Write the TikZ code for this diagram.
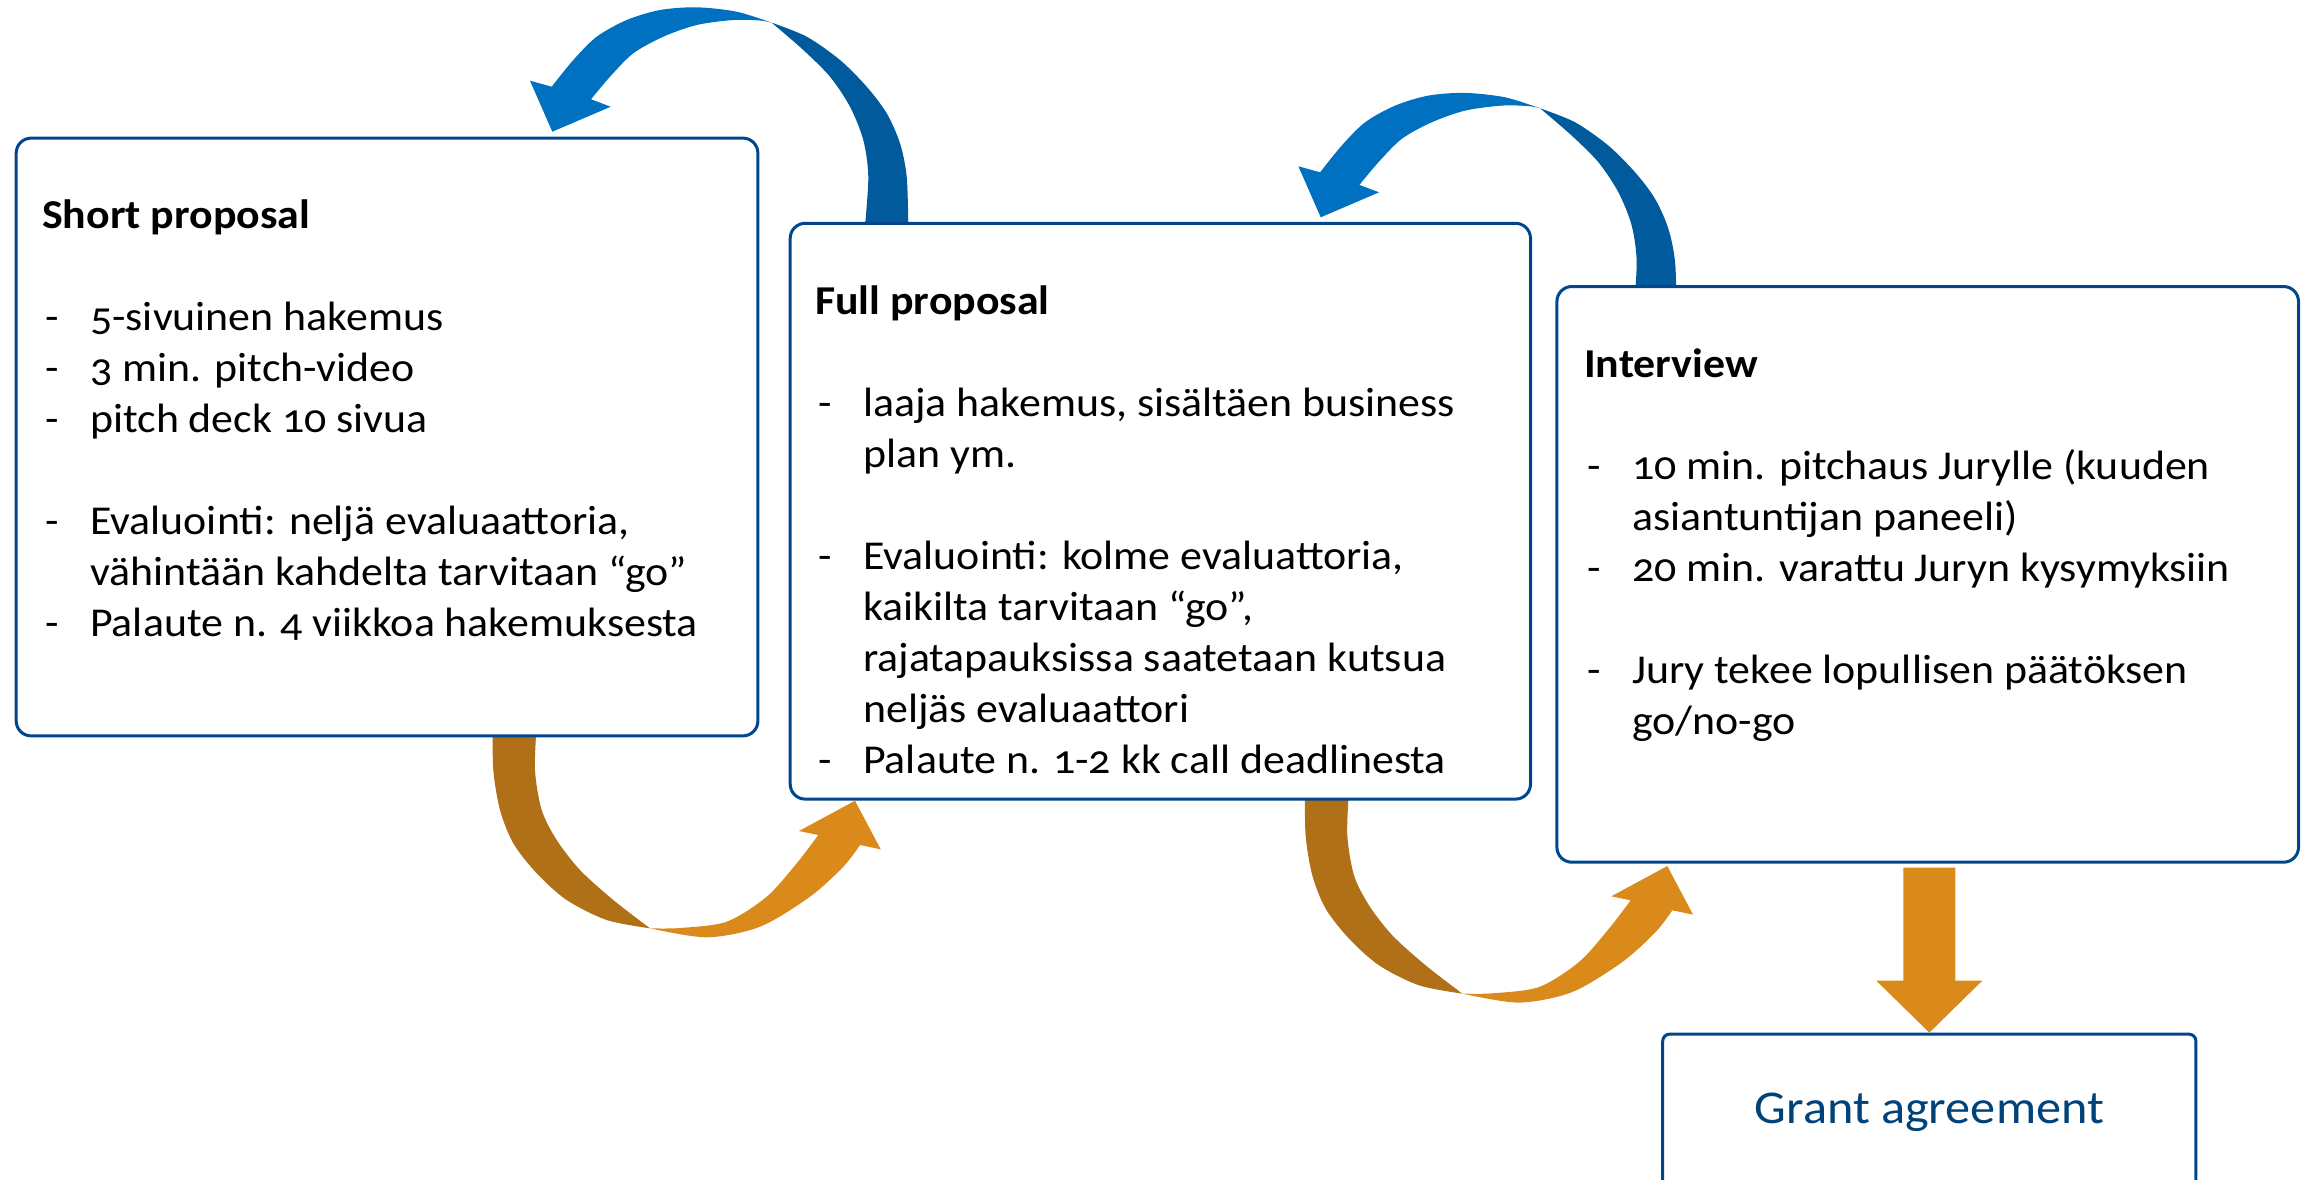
\documentclass[tikz,border=0pt]{standalone}
\usepackage{fontspec}
\setmainfont{Carlito}[Numbers=OldStyle, FakeStretch=1.07]
\usetikzlibrary{calc}
\definecolor{boxline}{RGB}{0,70,140}
\definecolor{bluelight}{RGB}{0,112,192}
\definecolor{bluedark}{RGB}{0,90,156}
\definecolor{orlight}{RGB}{218,138,26}
\definecolor{ordark}{RGB}{176,112,24}
\definecolor{gatext}{RGB}{0,66,122}
\newcommand{\itm}[1]{\par\noindent\hangindent=48pt\hangafter=1\makebox[48pt][l]{\hspace{3pt}-}#1}
\newcommand{\blankln}{\par\vspace{51pt}}
% curved blue return arrow (drawn in picture coordinates of the first one)
\newcommand{\bluearc}{%
  \fill[bluedark] plot[smooth] coordinates {(771.7,22.7) (806.7,36.7) (840,60) (866.7,86.7) (886.7,113.3) (900,143.3) (906.7,176.7) (908.3,226)}
    -- plot[smooth] coordinates {(865,226) (868.3,176.7) (863.3,140) (850,106.7) (830,76.7) (803.3,50) (771.7,22.7)} -- cycle;
  \fill[bluelight] plot[smooth] coordinates {(771.7,22.7) (736.7,11.7) (696.7,7.3) (660,10) (626.7,20) (596.7,36.7) (573.3,60) (551.7,86.7)}
    -- (530,80.7) -- (552.3,131.7) -- (610.7,106.7) -- (591,99.3)
    -- plot[smooth] coordinates {(591,99.3) (610,76.7) (633.3,53.3) (663.3,36.7) (696.7,25) (733.3,20) (760,20.5) (771.7,22.7)} -- cycle;}
% curved orange forward arrow
\newcommand{\orangearc}{%
  \fill[ordark] plot[smooth] coordinates {(492.7,725) (493.3,770) (500,810) (513.3,843.3) (536.7,873.3) (566.7,900) (606.7,920) (650,928.3)}
    -- plot[smooth] coordinates {(650,928.3) (613.3,900) (580,870) (556.7,840) (541.7,810) (535,770) (536.7,725)} -- cycle;
  \fill[orlight] plot[smooth] coordinates {(650,928.3) (706.7,937.3) (760,926.7) (810,896.7) (843.3,866.7) (860,845)}
    -- (880.7,849.3) -- (855,800.7) -- (799,831) -- (818.3,835)
    -- plot[smooth] coordinates {(818.3,835) (796.7,863.3) (766.7,896.7) (726.7,921.7) (680,928) (650,928.3)} -- cycle;}
\begin{document}
\begin{tikzpicture}[x=1pt,y=-1pt,
  stagebox/.style={draw=boxline, line width=3pt, rounded corners=15pt, fill=white, anchor=north west, inner sep=0pt},
  gabox/.style={draw=boxline, line width=3pt, rounded corners=7pt, fill=white, anchor=north west, inner sep=0pt},
  bodytext/.style={anchor=base west, inner sep=0pt, text=black}
]
\useasboundingbox (0,0) rectangle (2303,1179);
\clip (0,0) rectangle (2303,1179);

% ---------- curved arrows (behind boxes) ----------
\bluearc
\begin{scope}[shift={(768.4,85.6)}]\bluearc\end{scope}
\orangearc
\begin{scope}[shift={(812.3,65.3)}]\orangearc\end{scope}

% ---------- boxes ----------
\node[stagebox, minimum width=741.7pt, minimum height=597.8pt] (sp) at (14.7,136.6) {};
\node[stagebox, minimum width=740.3pt, minimum height=575.8pt] (fp) at (788.7,221.8) {};
\node[stagebox, minimum width=741.6pt, minimum height=575.7pt] (iv) at (1555.4,285) {};
\node[gabox, minimum width=533.2pt, minimum height=156pt] (ga) at (1661.2,1032.6) {};

% ---------- down arrow ----------
\coordinate (dtop) at (iv.south -| ga.north);
\fill[orlight] ($(dtop)+(-26,4)$) -- ($(dtop)+(26,4)$) -- ($(dtop)+(26,117)$) -- ($(dtop)+(53,117)$)
  -- (ga.north) -- ($(dtop)+(-53,117)$) -- ($(dtop)+(-26,117)$) -- cycle;

% ---------- texts ----------
\node[bodytext] (sptext) at (42,228.6) {\parbox[t]{700pt}{\fontsize{41}{51}\selectfont
\noindent\textbf{Short proposal}\blankln
\itm{5-sivuinen hakemus}
\itm{3 min. pitch-video}
\itm{pitch deck 10 sivua}\blankln
\itm{Evaluointi: neljä evaluaattoria,\\vähintään kahdelta tarvitaan “go”}
\itm{Palaute n. 4 viikkoa hakemuksesta}}};

\node[bodytext] (fptext) at (815,314) {\parbox[t]{700pt}{\fontsize{41}{51}\selectfont
\noindent\textbf{Full proposal}\blankln
\itm{laaja hakemus, sisältäen business\\plan ym.}\blankln
\itm{Evaluointi: kolme evaluattoria,\\kaikilta tarvitaan “go”,\\rajatapauksissa saatetaan kutsua\\neljäs evaluaattori}
\itm{Palaute n. 1-2 kk call deadlinesta}}};

\node[bodytext] (ivtext) at (1584,377) {\parbox[t]{700pt}{\fontsize{41}{51}\selectfont
\noindent\textbf{Interview}\blankln
\itm{10 min. pitchaus Jurylle (kuuden\\asiantuntijan paneeli)}
\itm{20 min. varattu Juryn kysymyksiin}\blankln
\itm{Jury tekee lopullisen päätöksen\\go/no-go}}};

\node[anchor=base, inner sep=0pt, text=gatext, font=\fontsize{47}{56}\selectfont] (gatxt) at (ga.north |- 0,1123) {Grant agreement};
\end{tikzpicture}
\end{document}
